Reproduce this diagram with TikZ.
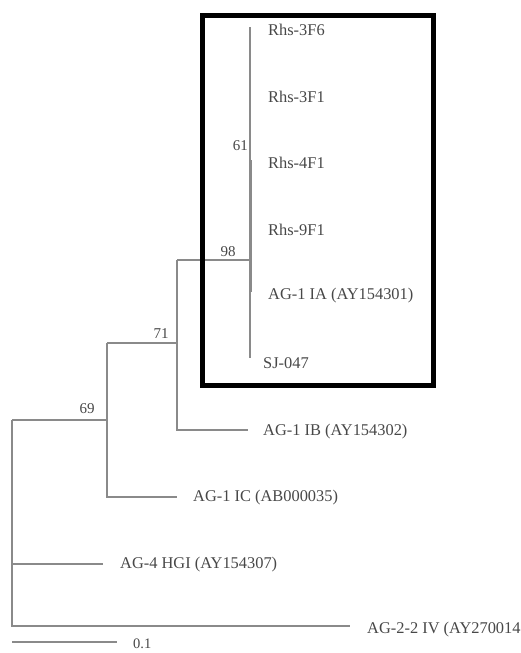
\documentclass[tikz,border=0pt]{standalone}
\usepackage{fontspec}
\setmainfont{Liberation Serif}
\definecolor{branch}{HTML}{8A8A8A}
\definecolor{txt}{HTML}{484848}
\begin{document}
\begin{tikzpicture}[x=1pt,y=-1pt,
  br/.style={draw=branch,line width=1.3pt},
  leaf/.style={anchor=west,inner sep=0pt,text=txt,font=\fontsize{16.4}{17}\selectfont},
  boot/.style={inner sep=0pt,text=txt,font=\fontsize{15}{16}\selectfont}]
\useasboundingbox[fill=white] (0,0) rectangle (521,653);
% leaf labels
\node[leaf] (l1) at (268,30) {Rhs-3F6};
\node[leaf] (l2) at (268,97) {Rhs-3F1};
\node[leaf] (l3) at (268,163) {Rhs-4F1};
\node[leaf] (l4) at (268,230) {Rhs-9F1};
\node[leaf] (l5) at (268,296) {AG-1 IA (AY154301)};
\node[leaf] (l6) at (263,363) {SJ-047};
\node[leaf] (l7) at (263,432) {AG-1 IB (AY154302)};
\node[leaf] (l8) at (193,498) {AG-1 IC (AB000035)};
\node[leaf] (l9) at (120,565) {AG-4 HGI (AY154307)};
\node[leaf] (l10) at (367,630) {AG-2-2 IV (AY270014};
\node[leaf,font=\fontsize{14.5}{15}\selectfont] (sc) at (133,643.5) {0.1};
% internal coordinates
\coordinate (a1) at (250,27);
\coordinate (a2) at (250,358);
\coordinate (b1) at (250.8,160);
\coordinate (b2) at (250.8,292);
\coordinate (n98) at (250,260);
\coordinate (n71) at (177,260);
\coordinate (n71b) at (177,430);
\coordinate (e7) at (248,430);
\coordinate (n71m) at (177,343);
\coordinate (n69) at (107,343);
\coordinate (n69b) at (107,497);
\coordinate (e8) at (177,497);
\coordinate (n69m) at (107,420);
\coordinate (r0) at (12,420);
\coordinate (r1) at (12,626);
\coordinate (r4) at (12,564);
\coordinate (e9) at (103,564);
\coordinate (e10) at (350,626);
\coordinate (s0) at (12,642);
\coordinate (s1) at (117,642);
% branches
\draw[br] (a1) -- (a2);
\draw[draw=branch,line width=2.4pt] (b1) -- (b2);
\draw[br] (n71) -- (n98);
\draw[br] (n71) -- (n71b) -- (e7);
\draw[br] (n69) -- (n71m);
\draw[br] (n69) -- (n69b) -- (e8);
\draw[br] (r0) -- (n69m);
\draw[br] (r0) -- (r1) -- (e10);
\draw[br] (r4) -- (e9);
\draw[br] (s0) -- (s1);
% bootstrap values
\node[boot,anchor=east] (v61) at (248,146) {61};
\node[boot] (v98) at (228,252) {98};
\node[boot] (v71) at (161,334) {71};
\node[boot] (v69) at (87,409) {69};
% highlight box
\draw[line width=5pt] (202.5,15.5) rectangle (433,385);
\end{tikzpicture}
\end{document}
